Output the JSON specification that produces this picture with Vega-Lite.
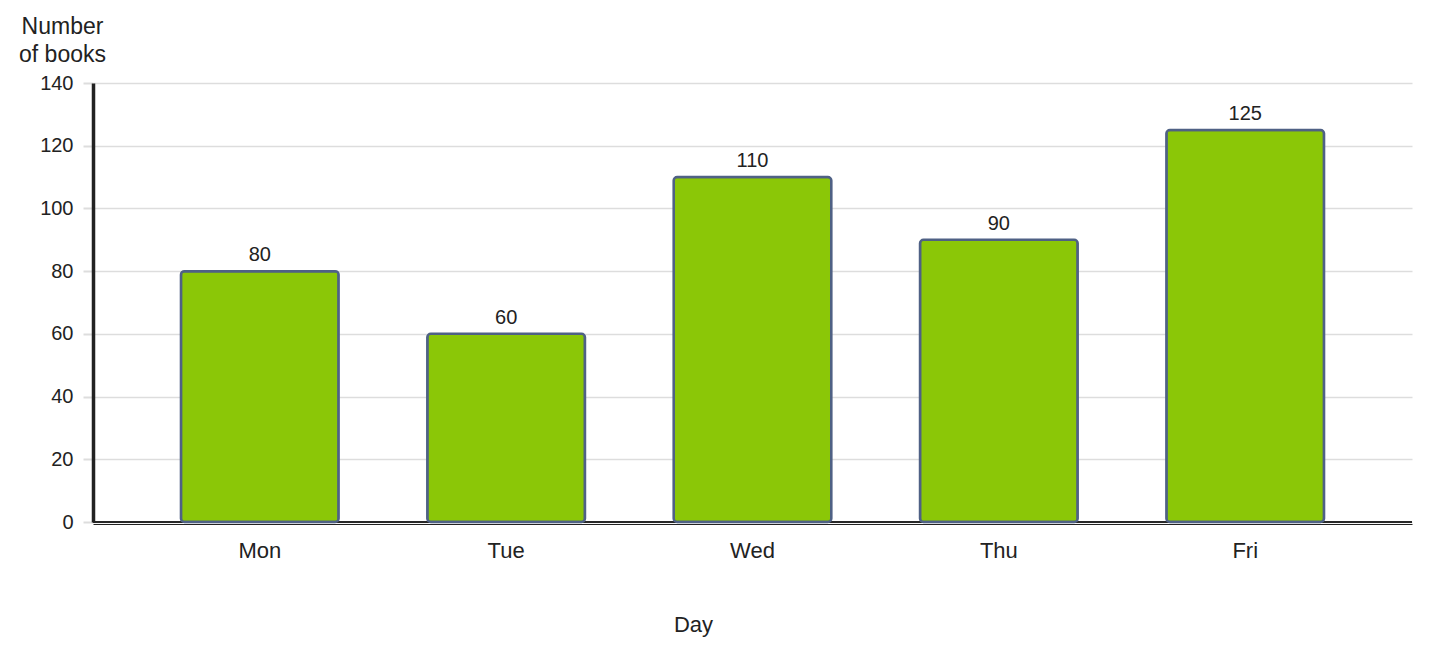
{
  "$schema": "https://vega.github.io/schema/vega-lite/v6.json",
  "width": 1319,
  "height": 439,
  "autosize": {"type": "none"},
  "padding": {"left": 93, "top": 83, "right": 19, "bottom": 134},
  "background": "white",
  "config": {
    "view": {"stroke": null},
    "font": "Liberation Sans",
    "text": {"font": "Liberation Sans"}
  },
  "data": {
    "values": [
      {"day": "Mon", "books": 80},
      {"day": "Tue", "books": 60},
      {"day": "Wed", "books": 110},
      {"day": "Thu", "books": 90},
      {"day": "Fri", "books": 125}
    ]
  },
  "encoding": {
    "x": {
      "field": "day",
      "type": "nominal",
      "sort": null,
      "scale": {"paddingInner": 0.36, "paddingOuter": 0.357},
      "axis": {
        "title": "Day",
        "titleFont": "Liberation Sans",
        "titleFontSize": 22,
        "titleFontWeight": "normal",
        "titleColor": "#222",
        "titleX": 600,
        "titleY": 100,
        "titleBaseline": "middle",
        "labelAngle": 0,
        "labelFont": "Liberation Sans",
        "labelFontSize": 22,
        "labelColor": "#222",
        "labelPadding": 16,
        "ticks": false,
        "domainColor": "#222",
        "domainWidth": 1.2,
        "offset": 2
      }
    },
    "y": {
      "field": "books",
      "type": "quantitative",
      "scale": {"domain": [0, 140], "nice": false},
      "axis": {
        "values": [0, 20, 40, 60, 80, 100, 120, 140],
        "title": ["Number", "of books"],
        "titleAngle": 0,
        "titleAlign": "center",
        "titleBaseline": "top",
        "titleX": -31,
        "titleY": -68,
        "titleLineHeight": 28,
        "titleFont": "Liberation Sans",
        "titleFontSize": 23,
        "titleFontWeight": "normal",
        "titleColor": "#222",
        "labelFont": "Liberation Sans",
        "labelFontSize": 20,
        "labelColor": "#222",
        "labelPadding": 10,
        "tickColor": "#dddddd",
        "tickSize": 10,
        "tickWidth": 2,
        "gridColor": "#dddddd",
        "gridWidth": 1.5,
        "domainColor": "#222",
        "domainWidth": 3.5
      }
    }
  },
  "layer": [
    {
      "mark": {"type": "rule", "color": "#222", "strokeWidth": 1.2},
      "encoding": {"y": {"datum": 0}, "x": {"value": 0}, "x2": {"value": 1319}}
    },
    {
      "mark": {
        "type": "bar",
        "color": "#8bc707",
        "stroke": "#4f6185",
        "strokeWidth": 2.5,
        "cornerRadius": 3.5
      }
    },
    {
      "mark": {
        "type": "text",
        "baseline": "alphabetic",
        "dy": -10,
        "fontSize": 20,
        "color": "#222",
        "font": "Liberation Sans"
      },
      "encoding": {"text": {"field": "books", "type": "quantitative"}}
    }
  ]
}
